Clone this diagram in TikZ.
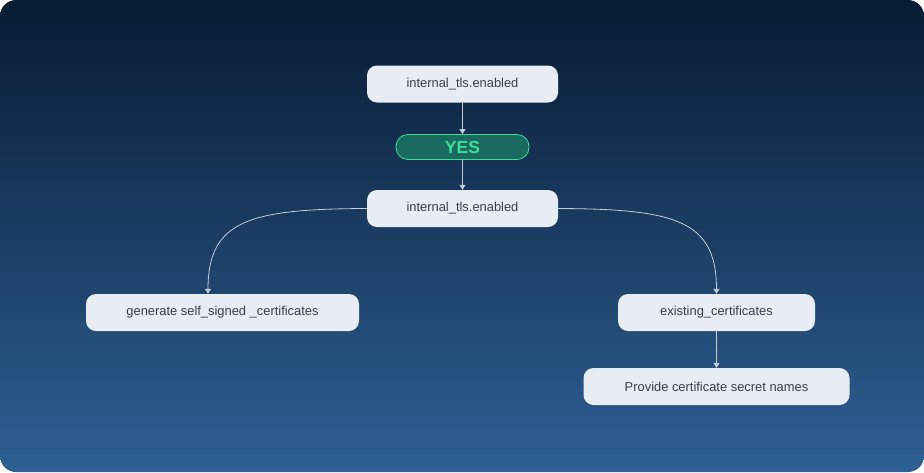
\documentclass[tikz,border=0pt]{standalone}
\usepackage{fontspec}
\setmainfont{Liberation Sans}
\usetikzlibrary{arrows.meta}

\definecolor{bgtop}{HTML}{081B34}
\definecolor{bgbot}{HTML}{2E6094}
\definecolor{boxfill}{HTML}{E8EDF5}
\definecolor{boxtext}{HTML}{383D47}
\definecolor{wire}{HTML}{C4CCD8}
\definecolor{yesfill}{HTML}{1B6A5F}
\definecolor{yesline}{HTML}{3DDC97}

\begin{document}
\begin{tikzpicture}[x=1pt,y=-1pt,
    box/.style={draw=none,fill=boxfill,rounded corners=10pt,minimum height=37pt,
      text=boxtext,font=\fontsize{12.9}{15}\selectfont,inner sep=0pt},
    yesbox/.style={draw=yesline,fill=yesfill,rounded corners=12pt,minimum width=133pt,
      minimum height=25pt,text=yesline,font=\fontsize{17.5}{20}\selectfont\bfseries,inner sep=0pt,line width=0.8pt},
    wirearrow/.style={draw=wire,line width=0.8pt,-{Triangle[length=5pt,width=6pt]}}]
  \useasboundingbox (0,0) rectangle (924,472);
  \shade[top color=bgtop,bottom color=bgbot,rounded corners=16pt] (0,0) rectangle (924,472);

  %% Nodes
  \node[box,minimum width=191pt] (tlsA) at (462.5,84) {internal\_tls.enabled};
  \node[yesbox] (yes) at (462.5,147) {YES};
  \node[box,minimum width=191pt] (tlsB) at (462.5,208.5) {internal\_tls.enabled};
  \node[box,minimum width=273pt] (selfsigned) at (222.5,312.5) {generate self\_signed \_certificates};
  \node[box,minimum width=197pt] (existing) at (716.5,312.5) {existing\_certificates};
  \node[box,minimum width=266pt] (secrets) at (716.5,386.5) {Provide certificate secret names};
  \coordinate (selfin) at ([xshift=-14.5pt]selfsigned.north);

  %% Arrows
  \draw[wirearrow] (tlsA) -- (yes);
  \draw[wirearrow] (yes) -- (tlsB);
  \draw[wirearrow] (tlsB.west) .. controls (250,209) and (208,220) .. (selfin);
  \draw[wirearrow] (tlsB.east) .. controls (675,209) and (716.5,220) .. (existing.north);
  \draw[wirearrow] (existing) -- (secrets);

\end{tikzpicture}
\end{document}
